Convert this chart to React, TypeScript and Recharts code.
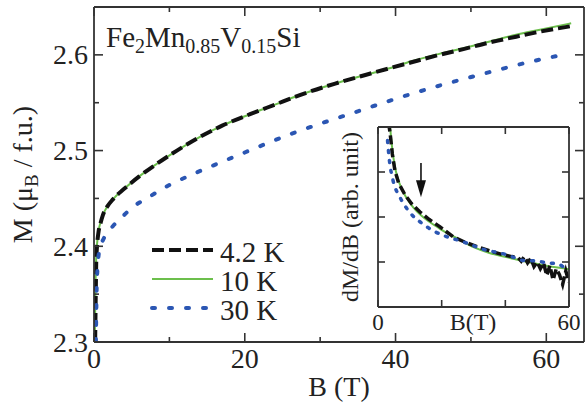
import { LineChart, Line, XAxis, YAxis, ReferenceLine } from "recharts";

const FONT = '"Liberation Serif", "Times New Roman", "DejaVu Serif", serif';
const INK = "#222";
const FRAME = "#333";
const BLACK = "#111";
const GREEN = "#6cbf4c";
const BLUE = "#2b56b3";

// main panel, M(B) in muB / f.u.
const field42 = [0.15, 0.2, 0.25, 0.3, 0.4, 0.6, 0.9, 1.2, 1.8, 2.5, 4, 6, 8.3, 11, 14, 17, 20.7, 24, 27.3, 32, 36, 39.2, 42, 45.8, 49, 52.5, 56, 59, 63.3];
const moment42 = [2.3, 2.33, 2.36, 2.385, 2.4, 2.415, 2.425, 2.433, 2.442, 2.449, 2.46, 2.473, 2.486, 2.5, 2.514, 2.526, 2.538, 2.548, 2.558, 2.57, 2.579, 2.586, 2.592, 2.6, 2.606, 2.613, 2.619, 2.624, 2.63];

const field10 = [0.1, 0.15, 0.2, 0.3, 0.4, 0.6, 0.9, 1.2, 1.8, 2.5, 4, 6, 8.3, 11, 14, 17, 20.7, 24, 27.3, 32, 36, 39.2, 42, 45.8, 49, 52.5, 56, 59, 63.3];
const moment10 = [2.3, 2.33, 2.36, 2.39, 2.402, 2.416, 2.426, 2.433, 2.442, 2.449, 2.46, 2.473, 2.486, 2.5, 2.514, 2.526, 2.538, 2.548, 2.558, 2.57, 2.579, 2.586, 2.593, 2.601, 2.607, 2.614, 2.621, 2.626, 2.633];

const field30 = [0.25, 0.3, 0.35, 0.45, 0.6, 0.8, 1.1, 1.8, 2.5, 3.4, 5, 7.4, 10, 13, 16.3, 20, 26, 30, 35, 39.2, 45, 52.5, 58, 62.8];
const moment30 = [2.3, 2.33, 2.355, 2.375, 2.39, 2.398, 2.405, 2.414, 2.421, 2.428, 2.44, 2.452, 2.464, 2.475, 2.486, 2.498, 2.517, 2.528, 2.541, 2.552, 2.566, 2.582, 2.593, 2.601];

// inset, dM/dB in arbitrary units
const insetField42 = [3.3, 3.8, 4.5, 5.3, 6.5, 8.5, 10.5, 13.2, 16, 19.5, 23.6, 27, 31.1, 35, 39.3, 42, 44, 45, 46, 47, 48, 49, 50, 51, 52, 53, 54, 55, 56, 57, 58, 59, 60];
const insetDeriv42 = [4.1, 3.87, 3.4, 3.04, 2.75, 2.49, 2.3, 2.11, 1.95, 1.78, 1.56, 1.45, 1.34, 1.25, 1.16, 1.12, 1.1, 1.02, 1.12, 0.98, 1.08, 0.9, 1.0, 0.85, 0.98, 0.7, 0.92, 0.6, 0.85, 0.72, 0.5, 0.8, 0.55];

const insetField10 = [3.8, 4.5, 5.5, 7, 9, 11, 13.5, 16, 19, 22, 25, 30, 35, 41.5, 47, 52, 57, 60];
const insetDeriv10 = [4.0, 3.5, 3.05, 2.7, 2.42, 2.22, 2.04, 1.9, 1.76, 1.63, 1.52, 1.33, 1.2, 1.09, 1.0, 0.93, 0.87, 0.84];

const insetField30 = [3.0, 3.6, 4.7, 6.9, 10, 13.8, 18, 21.7, 26.7, 30, 33.6, 36.8, 40.5, 42.4, 45, 50, 53, 56.5, 58.7, 60];
const insetDeriv30 = [3.7, 3.25, 2.82, 2.44, 2.1, 1.86, 1.67, 1.56, 1.45, 1.36, 1.27, 1.22, 1.16, 1.11, 1.04, 1.02, 0.98, 0.96, 0.87, 0.83];

const arrowField = 13.5;
const arrowFrom = 3.2;
const arrowTo = 2.44;

// ticks
const mainXTicks = [0, 10, 20, 30, 40, 50, 60];
const mainXLabels = [0, 20, 40, 60];
const mainYTicks = [2.3, 2.35, 2.4, 2.45, 2.5, 2.55, 2.6];
const mainYLabels = [2.3, 2.4, 2.5, 2.6];
const insetXTicks = [0, 20, 40, 60];
const insetXLabels = [0, 60];
const insetYTicks = [1, 2, 3];

const legendItems = [
  { name: "4.2 K", color: BLACK, width: 4, dash: "12 5", cap: "butt" },
  { name: "10 K", color: GREEN, width: 2, dash: undefined, cap: "butt" },
  { name: "30 K", color: BLUE, width: 4, dash: "3 14", cap: "round" },
];

const zip = (xs: number[], ys: number[]) => xs.map((b, i) => ({ b, v: ys[i] }));

const near = (list: number[], v: number) => list.some((m) => Math.abs(m - v) < 1e-6);

type Side = "bottom" | "top" | "left" | "right";

function makeTick(side: Side, major: number[], labels: number[], opts: { len: number; minor: number; gap: number; size: number; fmt?: (v: number) => string }) {
  return (props: any) => {
    const { x, y, payload } = props;
    const v = payload.value as number;
    const len = near(major, v) ? opts.len : opts.minor;
    const txt = near(labels, v) ? (opts.fmt ? opts.fmt(v) : String(v)) : null;
    let line;
    let label = null;
    if (side === "bottom") {
      line = <line x1={x} y1={y} x2={x} y2={y - len} />;
      if (txt) label = <text x={x} y={y + opts.gap} textAnchor="middle">{txt}</text>;
    } else if (side === "top") {
      line = <line x1={x} y1={y} x2={x} y2={y + len} />;
    } else if (side === "left") {
      line = <line x1={x} y1={y} x2={x + len} y2={y} />;
      if (txt) label = <text x={x - opts.gap} y={y} dy="0.34em" textAnchor="end">{txt}</text>;
    } else {
      line = <line x1={x} y1={y} x2={x - len} y2={y} />;
    }
    return (
      <g stroke={FRAME} strokeWidth={1.6}>
        {line}
        {label && (
          <g stroke="none" fill={INK} fontFamily={FONT} fontSize={opts.size}>
            {label}
          </g>
        )}
      </g>
    );
  };
}

const axisLine = { stroke: FRAME, strokeWidth: 1.8 };

function Arrow(p: any) {
  const { x1, y1, x2, y2 } = p;
  return (
    <g>
      <line x1={x1} y1={y1} x2={x2} y2={y2 - 14} stroke={BLACK} strokeWidth={1.6} />
      <polygon points={`${x2},${y2} ${x2 - 5},${y2 - 17} ${x2 + 5},${y2 - 17}`} fill={BLACK} />
    </g>
  );
}

function Inset() {
  return (
    <LineChart width={254} height={217} margin={{ top: 0, right: 14, bottom: 0, left: 0 }}>
      <XAxis xAxisId={0} type="number" dataKey="b" domain={[0, 60]} ticks={insetXTicks} interval={0}
        height={30} tickSize={0} tickMargin={0} tickLine={false} axisLine={axisLine} allowDataOverflow
        tick={makeTick("bottom", insetXTicks, insetXLabels, { len: 7, minor: 7, gap: 23, size: 23 })} />
      <XAxis xAxisId="top" orientation="top" type="number" dataKey="b" domain={[0, 60]} ticks={insetXTicks} interval={0}
        height={7} tickSize={0} tickMargin={0} tickLine={false} axisLine={axisLine} allowDataOverflow
        tick={makeTick("top", insetXTicks, [], { len: 7, minor: 7, gap: 0, size: 23 })} />
      <YAxis yAxisId={0} type="number" domain={[0, 4]} ticks={insetYTicks} interval={0}
        width={48} tickSize={0} tickMargin={0} tickLine={false} axisLine={axisLine} allowDataOverflow
        tick={makeTick("left", insetYTicks, [], { len: 7, minor: 7, gap: 0, size: 23 })} />
      <YAxis yAxisId="right" orientation="right" type="number" domain={[0, 4]} ticks={insetYTicks} interval={0}
        width={1} tickSize={0} tickMargin={0} tickLine={false} axisLine={axisLine} allowDataOverflow
        tick={makeTick("right", insetYTicks, [], { len: 7, minor: 7, gap: 0, size: 23 })} />
      <Line data={zip(insetField10, insetDeriv10)} dataKey="v" type="monotone" stroke={GREEN} strokeWidth={2}
        dot={false} isAnimationActive={false} />
      <Line data={zip(insetField42, insetDeriv42)} dataKey="v" type="linear" stroke={BLACK} strokeWidth={3.5}
        strokeDasharray="9 4" dot={false} isAnimationActive={false} />
      <Line data={zip(insetField30, insetDeriv30)} dataKey="v" type="monotone" stroke={BLUE} strokeWidth={3.5}
        strokeDasharray="2 8" strokeLinecap="round" dot={false} isAnimationActive={false} />
      <ReferenceLine segment={[{ x: arrowField, y: arrowFrom }, { x: arrowField, y: arrowTo }]} shape={Arrow} />
    </LineChart>
  );
}

export default function App() {
  return (
    <div style={{ position: "relative", width: 585, height: 407, background: "#fff", fontFamily: FONT }}>
      <style>{`body{margin:0}`}</style>
      <LineChart width={585} height={407} margin={{ top: 0, right: 0, bottom: 0, left: 0 }}>
        <XAxis xAxisId={0} type="number" dataKey="b" domain={[0, 65]} ticks={mainXTicks} interval={0}
          height={65} tickSize={0} tickMargin={0} tickLine={false} axisLine={axisLine} allowDataOverflow
          tick={makeTick("bottom", mainXLabels, mainXLabels, { len: 9, minor: 5, gap: 26, size: 28 })} />
        <XAxis xAxisId="top" orientation="top" type="number" dataKey="b" domain={[0, 65]} ticks={mainXTicks} interval={0}
          height={7} tickSize={0} tickMargin={0} tickLine={false} axisLine={axisLine} allowDataOverflow
          tick={makeTick("top", mainXLabels, [], { len: 9, minor: 5, gap: 0, size: 28 })} />
        <YAxis yAxisId={0} type="number" domain={[2.3, 2.65]} ticks={mainYTicks} interval={0}
          width={94} tickSize={0} tickMargin={0} tickLine={false} axisLine={axisLine} allowDataOverflow
          tick={makeTick("left", mainYLabels, mainYLabels, { len: 9, minor: 5, gap: 6, size: 28, fmt: (v) => v.toFixed(1) })} />
        <YAxis yAxisId="right" orientation="right" type="number" domain={[2.3, 2.65]} ticks={mainYTicks} interval={0}
          width={1} tickSize={0} tickMargin={0} tickLine={false} axisLine={axisLine} allowDataOverflow
          tick={makeTick("right", mainYLabels, [], { len: 9, minor: 5, gap: 0, size: 28 })} />
        <Line data={zip(field10, moment10)} dataKey="v" type="monotone" stroke={GREEN} strokeWidth={2}
          dot={false} isAnimationActive={false} />
        <Line data={zip(field42, moment42)} dataKey="v" type="monotone" stroke={BLACK} strokeWidth={4}
          strokeDasharray="12 5" dot={false} isAnimationActive={false} />
        <Line data={zip(field30, moment30)} dataKey="v" type="monotone" stroke={BLUE} strokeWidth={4}
          strokeDasharray="3 14" strokeLinecap="round" dot={false} isAnimationActive={false} />
      </LineChart>

      <div style={{ position: "absolute", left: 330, top: 120 }}>
        <Inset />
      </div>

      <svg width={585} height={407} style={{ position: "absolute", left: 0, top: 0, pointerEvents: "none" }}
        fontFamily={FONT} fill={INK}>
        <text x={106} y={47} fontSize={29}>
          Fe<tspan fontSize={20} dy={6}>2</tspan>
          <tspan dy={-6}>Mn</tspan>
          <tspan fontSize={20} dy={6}>0.85</tspan>
          <tspan dy={-6}>V</tspan>
          <tspan fontSize={20} dy={6}>0.15</tspan>
          <tspan dy={-6}>Si</tspan>
        </text>

        <text x={339} y={396} fontSize={28} textAnchor="middle">B (T)</text>
        <text transform="translate(32,174.5) rotate(-90)" fontSize={28} textAnchor="middle">
          M (μ<tspan fontSize={19} dy={6}>B</tspan>
          <tspan dy={-6}> / f.u.)</tspan>
        </text>

        {legendItems.map((it, i) => (
          <g key={it.name}>
            <line x1={152} x2={213} y1={250 + i * 29} y2={250 + i * 29} stroke={it.color} strokeWidth={it.width}
              strokeDasharray={it.dash} strokeLinecap={it.cap as any} />
            <text x={220} y={262 + i * 29} fontSize={29}>{it.name}</text>
          </g>
        ))}

        <text x={473} y={330} fontSize={24} textAnchor="middle">B(T)</text>
        <text transform="translate(358,217) rotate(-90)" fontSize={24} textAnchor="middle">dM/dB (arb. unit)</text>
      </svg>
    </div>
  );
}
